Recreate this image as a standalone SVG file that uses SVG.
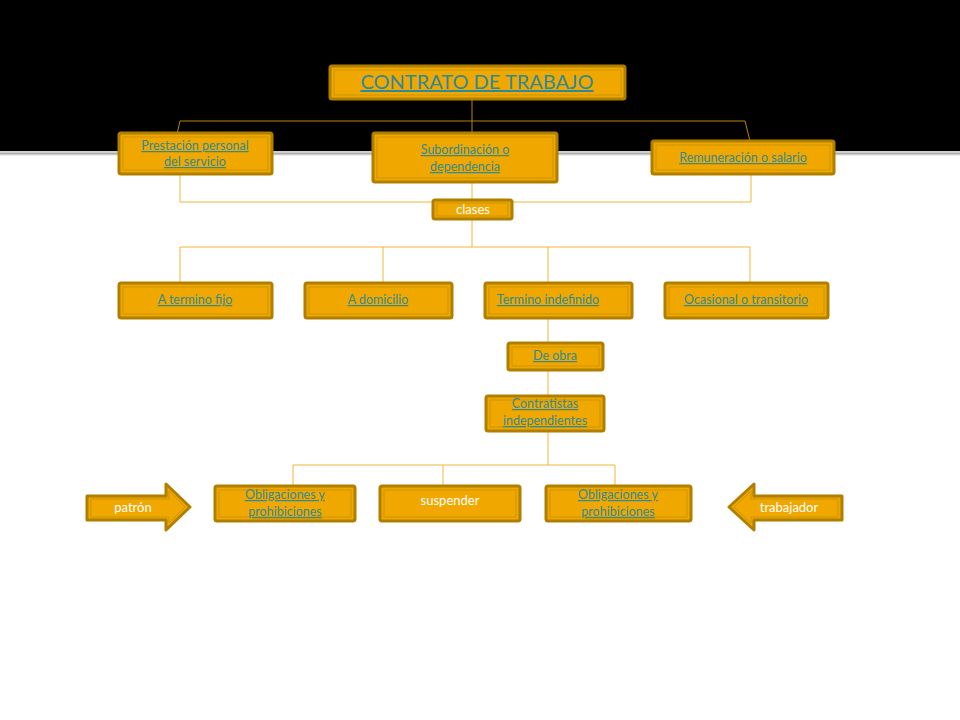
<svg xmlns="http://www.w3.org/2000/svg" width="960" height="720" viewBox="0 0 960 720">
<defs>
<linearGradient id="sh" x1="0" y1="0" x2="0" y2="1">
<stop offset="0" stop-color="#9a9a9a"/>
<stop offset="1" stop-color="#ffffff"/>
</linearGradient>
</defs>
<style>
.box{fill:#f0a800;stroke:#b07f00;stroke-width:3}
.in{fill:none;stroke:#c99400;stroke-width:1}
.lk{font-family:Lato,"Open Sans","Liberation Sans",sans-serif;font-size:12.5px;fill:#348a90;text-decoration:underline;text-anchor:middle}
.wt{font-family:Lato,"Open Sans","Liberation Sans",sans-serif;font-size:13px;fill:#ffffff;text-anchor:middle}
.cl{fill:none;stroke:#f2b73a;stroke-width:1}
.cd{fill:none;stroke:#b8860b;stroke-width:1}
</style>
<rect x="0" y="0" width="960" height="720" fill="#ffffff"/>
<rect x="0" y="0" width="960" height="151" fill="#000000"/>
<rect x="0" y="151" width="960" height="2" fill="#cfcfcf"/>
<rect x="0" y="153" width="960" height="3" fill="url(#sh)"/>

<g id="connectors">
<path class="cd" d="M472 99V133M180 121H745M180 121L177 134M745 121L750 141"/>
<path class="cl" d="M180 174V202H751V174M472 182V200M472 219V247M180 247H750M180 247V283M383 247V283M548 247V283M750 247V283M548 318V343M548 370V396M548 431V465M293 465H615M293 465V486M443 465V486M615 465V486"/>
</g>

<g id="n-contrato">
<rect class="box" x="330" y="66" width="295" height="33" rx="2"/>
<rect class="in" x="334" y="70" width="287" height="25"/>
<text class="lk" x="477" y="89" style="font-size:20px;fill:#2c8a9c">CONTRATO DE TRABAJO</text>
</g>
<g id="n-prestacion">
<rect class="box" x="119" y="133" width="153" height="41" rx="2"/>
<rect class="in" x="123" y="137" width="145" height="33"/>
<text class="lk" x="195" y="150">Prestación personal</text>
<text class="lk" x="195" y="166">del servicio</text>
</g>
<g id="n-subordinacion">
<rect class="box" x="373" y="133" width="184" height="49" rx="2"/>
<rect class="in" x="377" y="137" width="176" height="41"/>
<text class="lk" x="465" y="154">Subordinación o</text>
<text class="lk" x="465" y="171">dependencia</text>
</g>
<g id="n-remuneracion">
<rect class="box" x="652" y="141" width="182" height="33" rx="2"/>
<rect class="in" x="656" y="145" width="174" height="25"/>
<text class="lk" x="743" y="162">Remuneración o salario</text>
</g>
<g id="n-clases">
<rect class="box" x="433" y="200" width="79" height="19" rx="2"/>
<rect class="in" x="437" y="203" width="71" height="13"/>
<text class="wt" x="473" y="214">clases</text>
</g>
<g id="n-fijo">
<rect class="box" x="119" y="283" width="153" height="35" rx="2"/>
<rect class="in" x="123" y="287" width="145" height="27"/>
<text class="lk" x="195" y="304">A termino fijo</text>
</g>
<g id="n-domicilio">
<rect class="box" x="305" y="283" width="147" height="35" rx="2"/>
<rect class="in" x="309" y="287" width="139" height="27"/>
<text class="lk" x="378" y="304">A domicilio</text>
</g>
<g id="n-indefinido">
<rect class="box" x="485" y="283" width="147" height="35" rx="2"/>
<rect class="in" x="489" y="287" width="139" height="27"/>
<text class="lk" x="548" y="304">Termino indefinido</text>
</g>
<g id="n-ocasional">
<rect class="box" x="665" y="283" width="163" height="35" rx="2"/>
<rect class="in" x="669" y="287" width="155" height="27"/>
<text class="lk" x="746" y="304">Ocasional o transitorio</text>
</g>
<g id="n-obra">
<rect class="box" x="508" y="343" width="95" height="27" rx="2"/>
<rect class="in" x="512" y="347" width="87" height="19"/>
<text class="lk" x="555" y="360">De obra</text>
</g>
<g id="n-contratistas">
<rect class="box" x="486" y="396" width="118" height="35" rx="2"/>
<rect class="in" x="490" y="400" width="110" height="27"/>
<text class="lk" x="545" y="408">Contratistas</text>
<text class="lk" x="545" y="425">independientes</text>
</g>
<g id="n-oblig1">
<rect class="box" x="215" y="486" width="140" height="35" rx="2"/>
<rect class="in" x="219" y="490" width="132" height="27"/>
<text class="lk" x="285" y="499">Obligaciones y</text>
<text class="lk" x="285" y="516">prohibiciones</text>
</g>
<g id="n-suspender">
<rect class="box" x="380" y="486" width="140" height="35" rx="2"/>
<rect class="in" x="384" y="490" width="132" height="27"/>
<text class="wt" x="450" y="505">suspender</text>
</g>
<g id="n-oblig2">
<rect class="box" x="546" y="486" width="145" height="35" rx="2"/>
<rect class="in" x="550" y="490" width="137" height="27"/>
<text class="lk" x="618" y="499">Obligaciones y</text>
<text class="lk" x="618" y="516">prohibiciones</text>
</g>
<g id="n-patron">
<polygon class="box" points="87,496 166,496 166,484 190,507 166,530 166,520 87,520" stroke-linejoin="round"/>
<polygon class="in" points="91,499 169,499 169,491 185,507 169,523 169,517 91,517"/>
<text class="wt" x="133" y="512">patrón</text>
</g>
<g id="n-trabajador">
<polygon class="box" points="842,496 754,496 754,484 729,507 754,530 754,520 842,520" stroke-linejoin="round"/>
<polygon class="in" points="838,499 751,499 751,491 734,507 751,523 751,517 838,517"/>
<text class="wt" x="789" y="512">trabajador</text>
</g>
</svg>
